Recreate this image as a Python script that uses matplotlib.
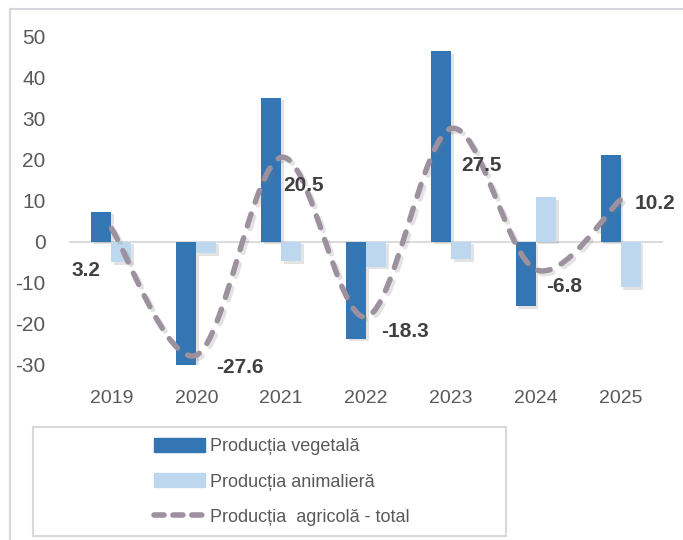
import matplotlib.pyplot as plt
import matplotlib.patheffects as pe
from matplotlib.path import Path
from matplotlib.patches import PathPatch, Rectangle
from matplotlib.lines import Line2D
import numpy as np

years = ['2019', '2020', '2021', '2022', '2023', '2024', '2025']
vegetala = [7.3, -30.9, 35.0, -23.6, 46.3, -15.7, 21.1]
animaliera = [-4.9, -2.8, -4.7, -6.1, -4.3, 10.8, -11.0]
total = [3.2, -27.6, 20.5, -18.3, 27.5, -6.8, 10.2]
labels = ['3.2', '-27.6', '20.5', '-18.3', '27.5', '-6.8', '10.2']
legend_labels = ['Producția vegetală', 'Producția animalieră', 'Producția  agricolă - total']

dark_blue = '#3476B3'
light_blue = '#BDD7EE'
line_col = '#9D919F'
tick_col = '#595959'

plt.rcParams['font.family'] = ['Liberation Sans', 'DejaVu Sans']
plt.rcParams['axes.unicode_minus'] = False

fig = plt.figure(figsize=(6.83, 5.4), dpi=100)
ax = fig.add_axes([69 / 683, 1 - 365 / 540, (663 - 69) / 683, (365 - 36) / 540])

# chart frame (cut off at right and bottom)
fig.add_artist(Line2D([10 / 683, 10 / 683], [1 - 9 / 540, 0], color='#D9D4DD', lw=1.5))
fig.add_artist(Line2D([10 / 683, 1], [1 - 9 / 540, 1 - 9 / 540], color='#D9D4DD', lw=1.5))

x = np.arange(len(years))
w = 0.236
shadow = [pe.SimplePatchShadow(offset=(2, -2), alpha=0.18, shadow_rgbFace='#666666'), pe.Normal()]
b1 = ax.bar(x - w / 2, vegetala, w, color=dark_blue, zorder=2)
b2 = ax.bar(x + w / 2, animaliera, w, color=light_blue, zorder=2)
for b in list(b1) + list(b2):
    b.set_path_effects(shadow)

ax.axhline(0, color='#D9D9D9', lw=1.3, zorder=1)

# smoothed total line (Bezier path through the data points)
pts = np.column_stack([x, total])
verts = [tuple(pts[0])]
codes = [Path.MOVETO]
t = 1 / 6
for i in range(len(pts) - 1):
    p0 = pts[max(i - 1, 0)]
    p1 = pts[i]
    p2 = pts[i + 1]
    p3 = pts[min(i + 2, len(pts) - 1)]
    c1 = p1 + (p2 - p0) * t
    c2 = p2 - (p3 - p1) * t
    verts += [tuple(c1), tuple(c2), tuple(p2)]
    codes += [Path.CURVE4] * 3
curve = PathPatch(Path(verts, codes), fill=False, edgecolor=line_col, lw=3.9,
                  linestyle=(0, (2.3, 2.3)), capstyle='round', zorder=3)
curve.set_path_effects([pe.SimpleLineShadow(offset=(2, -2), alpha=0.2, shadow_color='#777777'), pe.Normal()])
ax.add_patch(curve)

offsets = [(-25, -42, 'center'), (20, -12, 'left'), (2, -28, 'left'), (15, -15, 'left'),
           (10, -37, 'left'), (10, -17, 'left'), (14, -4, 'left')]
for xi, v, lab, (dx, dy, ha) in zip(x, total, labels, offsets):
    ax.annotate(lab, (xi, v), xytext=(dx, dy), textcoords='offset pixels',
                ha=ha, va='center', fontsize=15, fontweight='bold', color='#404040', zorder=4)

ax.set_xlim(-0.5, len(years) - 0.5)
ax.set_ylim(-30, 50)
ax.set_yticks(range(-30, 51, 10))
ax.set_xticks(x)
ax.set_xticklabels(years)
ax.tick_params(axis='y', length=0, labelsize=15, labelcolor=tick_col, pad=17)
ax.tick_params(axis='x', length=0, labelsize=14, labelcolor=tick_col, pad=18)
for s in ax.spines.values():
    s.set_visible(False)

# legend frame
fig.add_artist(Rectangle((33 / 683, 1 - 536 / 540), (506 - 33) / 683, (536 - 427) / 540,
                         transform=fig.transFigure, fill=False, edgecolor='#D9D9D9', lw=1.5))

handles = [Rectangle((0, 0), 1, 1, color=dark_blue),
           Rectangle((0, 0), 1, 1, color=light_blue),
           Line2D([], [], color=line_col, lw=4.0, linestyle=(0, (1.8, 1.6)),
                  dash_capstyle='round')]
leg = fig.legend(handles, legend_labels, loc='center left',
                 bbox_to_anchor=(145 / 683, 1 - 482 / 540),
                 frameon=False, handlelength=2.8, handleheight=0.8,
                 handletextpad=0.3, labelspacing=1.0, borderpad=0,
                 prop={'family': ['Liberation Sans Narrow', 'Liberation Sans'], 'size': 13})
for txt in leg.get_texts():
    txt.set_color(tick_col)

fig.savefig('out.png', dpi=100)
